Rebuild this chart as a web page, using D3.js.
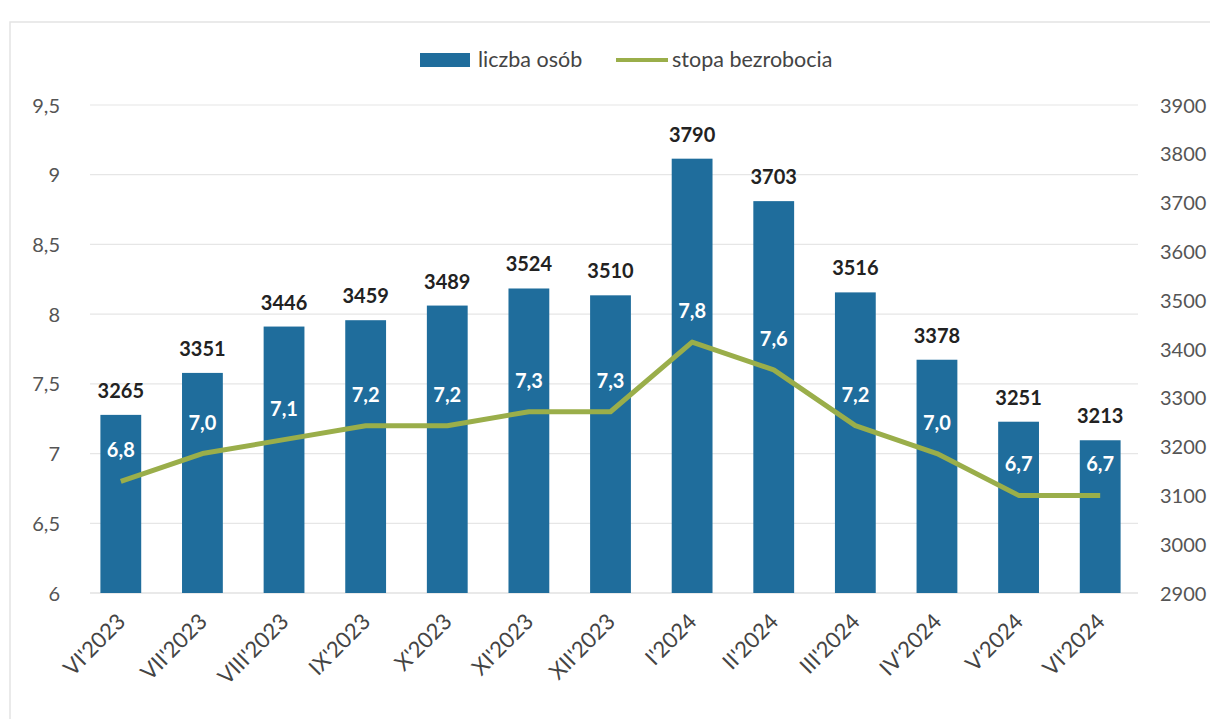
<!DOCTYPE html>
<html>
<head>
<meta charset="utf-8">
<script src="https://cdn.jsdelivr.net/npm/d3@7"></script>
<style>
  body { margin: 0; background: #fff; }
  text { font-family: Lato, "Open Sans", sans-serif; }
</style>
</head>
<body>
<div id="chart"></div>
<script>
const months = ["VI'2023", "VII'2023", "VIII'2023", "IX'2023", "X'2023", "XI'2023", "XII'2023",
    "I'2024", "II'2024", "III'2024", "IV'2024", "V'2024", "VI'2024"];
const liczbaOsob = [3265, 3351, 3446, 3459, 3489, 3524, 3510, 3790, 3703, 3516, 3378, 3251, 3213];
const stopaBezrobocia = [6.8, 7.0, 7.1, 7.2, 7.2, 7.3, 7.3, 7.8, 7.6, 7.2, 7.0, 6.7, 6.7];
const leftTicks = [6, 6.5, 7, 7.5, 8, 8.5, 9, 9.5];
const rightTicks = [2900, 3000, 3100, 3200, 3300, 3400, 3500, 3600, 3700, 3800, 3900];

const width = 1210, height = 719,
    blue = "#1f6d9c", green = "#9aae4a";

const svg = d3.select("#chart").append("svg")
    .attr("width", width)
    .attr("height", height);

// faint frame of the scanned page
svg.append("path")
    .attr("d", "M10,720 V22 H1220")
    .attr("fill", "none")
    .attr("stroke", "#e4e4e4")
    .attr("stroke-width", 1.5);

const x = d3.scaleBand()
    .domain(months)
    .range([80, 1141])
    .paddingInner(0.5)
    .paddingOuter(0.25);

const yL = d3.scaleLinear().domain([6, 9.5]).range([593, 105]);
const yR = d3.scaleLinear().domain([2900, 3900]).range([593, 105]);

const fmtComma = d => d3.format(".1f")(d).replace(".", ",");

// gridlines
svg.append("g").selectAll("line")
    .data(leftTicks)
    .enter().append("line")
    .attr("x1", 90).attr("x2", 1138)
    .attr("y1", d => yL(d)).attr("y2", d => yL(d))
    .attr("stroke", d => d === 6 ? "#d4d4d4" : "#e6e6e6")
    .attr("stroke-width", 1.2);

// left axis
const axL = svg.append("g")
    .attr("transform", "translate(60,0)")
    .call(d3.axisLeft(yL).tickValues(leftTicks).tickSize(0).tickPadding(0)
        .tickFormat(d => Number.isInteger(d) ? d : fmtComma(d)));
axL.select(".domain").remove();
axL.selectAll("text").attr("font-size", 20).attr("fill", "#555").attr("dy", "0.35em");

// right axis
const axR = svg.append("g")
    .attr("transform", "translate(1160,0)")
    .call(d3.axisRight(yR).tickValues(rightTicks).tickSize(0).tickPadding(0)
        .tickFormat(d3.format("d")));
axR.select(".domain").remove();
axR.selectAll("text").attr("font-size", 20).attr("fill", "#555").attr("dy", "0.35em");

// x axis labels
const axX = svg.append("g")
    .attr("transform", "translate(0,593)")
    .call(d3.axisBottom(x).tickSize(0).tickPadding(0));
axX.select(".domain").remove();
axX.selectAll("text")
    .attr("font-size", 22)
    .attr("fill", "#444")
    .attr("text-anchor", "end")
    .attr("dy", 0)
    .attr("transform", "translate(6,30) rotate(-45)");

// bars
svg.append("g").selectAll("rect")
    .data(liczbaOsob)
    .enter().append("rect")
    .attr("x", (d, i) => x(months[i]))
    .attr("width", x.bandwidth())
    .attr("y", d => yR(d))
    .attr("height", d => yR(2900) - yR(d))
    .attr("fill", blue);

// bar value labels
svg.append("g").selectAll("text")
    .data(liczbaOsob)
    .enter().append("text")
    .attr("x", (d, i) => x(months[i]) + x.bandwidth() / 2)
    .attr("y", d => yR(d) - 17)
    .attr("text-anchor", "middle")
    .attr("font-size", 20)
    .attr("font-weight", "bold")
    .attr("fill", "#222")
    .text(d => d);

// line
const line = d3.line()
    .x((d, i) => x(months[i]) + x.bandwidth() / 2)
    .y(d => yL(d));

svg.append("path")
    .datum(stopaBezrobocia)
    .attr("d", line)
    .attr("fill", "none")
    .attr("stroke", green)
    .attr("stroke-width", 5)
    .attr("stroke-linejoin", "round");

// line value labels
svg.append("g").selectAll("text")
    .data(stopaBezrobocia)
    .enter().append("text")
    .attr("x", (d, i) => x(months[i]) + x.bandwidth() / 2)
    .attr("y", d => yL(d) - 24)
    .attr("text-anchor", "middle")
    .attr("font-size", 20)
    .attr("font-weight", "bold")
    .attr("fill", "#fff")
    .text(d => fmtComma(d));

// legend
const legend = svg.append("g");
legend.append("rect")
    .attr("x", 420).attr("y", 53).attr("width", 50).attr("height", 14)
    .attr("fill", blue);
legend.append("text")
    .attr("x", 478).attr("y", 67)
    .attr("font-size", 21.5).attr("fill", "#444")
    .text("liczba osób");
legend.append("line")
    .attr("x1", 616).attr("x2", 668).attr("y1", 60).attr("y2", 60)
    .attr("stroke", green).attr("stroke-width", 4);
legend.append("text")
    .attr("x", 672).attr("y", 67)
    .attr("font-size", 21.5).attr("fill", "#444")
    .text("stopa bezrobocia");
</script>
</body>
</html>
